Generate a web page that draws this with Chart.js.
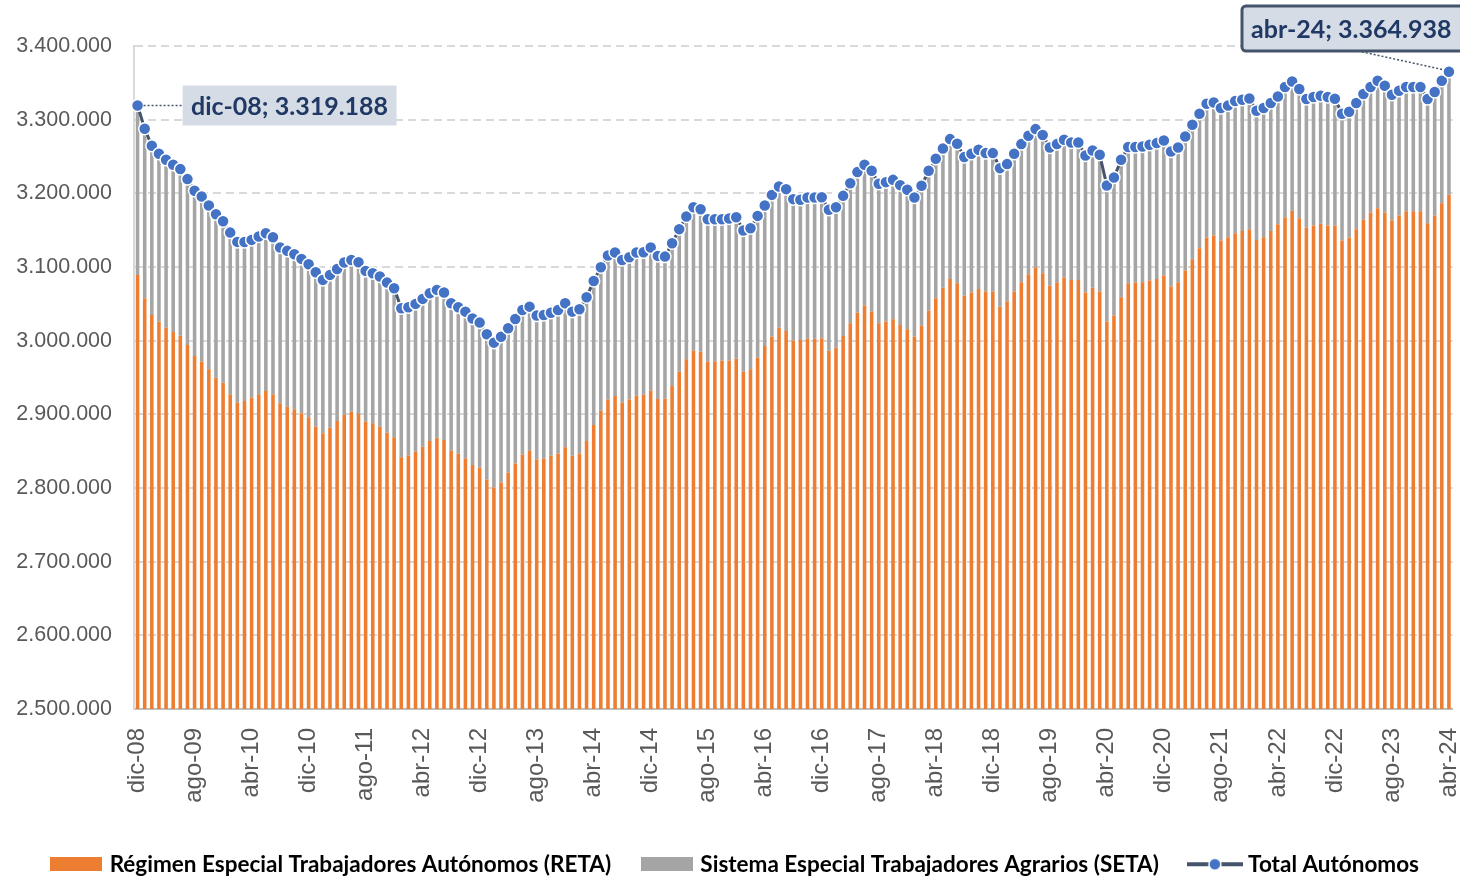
<!DOCTYPE html>
<html>
<head>
<meta charset="utf-8">
<script src="https://cdn.jsdelivr.net/npm/chart.js@4.4.1/dist/chart.umd.min.js"></script>
<style>
  html, body { margin: 0; padding: 0; background: #fff; }
</style>
</head>
<body>
<canvas id="autonomosChart" width="1460" height="876"></canvas>
<script>
// categories: monthly, dic-08 .. abr-24
var monthNames = ['ene', 'feb', 'mar', 'abr', 'may', 'jun', 'jul', 'ago', 'sep', 'oct', 'nov', 'dic'];
var categories = [];
for (var i = 0; i < 185; i++) {
    var m = (11 + i) % 12;
    var y = 2008 + Math.floor((11 + i) / 12);
    categories.push(monthNames[m] + '-' + String(y).slice(2));
}

// Régimen Especial Trabajadores Autónomos (RETA)
var retaValues = [
    3089300, 3057600, 3034900, 3025900, 3017700, 3011800, 3006800, 2994200, 2979200, 2971500,
    2961100, 2949700, 2942900, 2927200, 2915800, 2918100, 2922600, 2927200, 2931700, 2927200,
    2914900, 2910300, 2906800, 2901400, 2895900, 2883200, 2874200, 2881800, 2890900, 2899500,
    2903500, 2900400, 2890000, 2887800, 2883200, 2875000, 2868800, 2841600, 2843700, 2849200,
    2856000, 2863700, 2868200, 2865100, 2850500, 2847000, 2840200, 2831100, 2827500, 2811700,
    2800800, 2807600, 2820600, 2833400, 2845600, 2850500, 2838800, 2840200, 2843700, 2847000,
    2855200, 2843700, 2847000, 2863700, 2885500, 2904900, 2920300, 2924900, 2915800, 2920300,
    2925300, 2926700, 2932100, 2920800, 2921200, 2938500, 2957900, 2974700, 2986400, 2985000,
    2971500, 2972000, 2972800, 2972800, 2975600, 2957900, 2961100, 2976900, 2992800, 3005400,
    3017700, 3013200, 3000000, 3000900, 3002700, 3002700, 3003200, 2986400, 2990500, 3006400,
    3023600, 3038000, 3047600, 3039400, 3023600, 3025900, 3029000, 3021300, 3015500, 3005400,
    3020400, 3040800, 3057600, 3072000, 3083800, 3078000, 3061100, 3065300, 3070200, 3066600,
    3066600, 3046200, 3053000, 3066600, 3079300, 3090200, 3099200, 3091600, 3074700, 3079300,
    3085600, 3082500, 3082500, 3065300, 3072000, 3066600, 3025900, 3034000, 3058900, 3078000,
    3078800, 3079300, 3081600, 3083800, 3088400, 3073400, 3079300, 3095100, 3110600, 3125600,
    3140000, 3142700, 3135500, 3140500, 3145900, 3149000, 3151400, 3136800, 3140500, 3149000,
    3158100, 3167600, 3176200, 3166300, 3153600, 3156300, 3158600, 3156300, 3156300, 3135900,
    3140000, 3151400, 3164000, 3173900, 3179900, 3173900, 3163000, 3169900, 3175700, 3175700,
    3175700, 3159500, 3169900, 3186700, 3198000
];

// Sistema Especial Trabajadores Agrarios (SETA)
var setaValues = [
    229888, 230000, 229600, 227800, 227800, 226900, 226100, 225100, 224200, 224200,
    222300, 222000, 219300, 219500, 218300, 215900, 214200, 214100, 214200, 213300,
    211500, 211600, 210600, 209600, 207900, 209700, 208300, 207500, 206500, 206500,
    206100, 206100, 204700, 203800, 203800, 203800, 202400, 202400, 201700, 200700,
    200700, 200700, 200700, 200200, 200300, 198400, 199200, 198900, 197000, 197000,
    196500, 197800, 196200, 196100, 196100, 195700, 195200, 194700, 194300, 194700,
    195600, 195700, 195600, 195200, 195600, 194800, 195200, 194700, 193800, 193000,
    194300, 193400, 194300, 194300, 192900, 193800, 193500, 193800, 194800, 193500,
    193400, 192900, 192100, 193000, 192000, 191600, 191600, 192500, 190600, 192500,
    191500, 192500, 192100, 190300, 191600, 191600, 191600, 191200, 190700, 190200,
    190200, 190800, 191100, 191200, 189300, 189300, 189300, 189800, 189300, 188900,
    189800, 189800, 189300, 188900, 189800, 189300, 188100, 188400, 188900, 188000,
    188000, 188000, 186700, 187100, 187500, 187900, 188000, 187500, 187600, 187500,
    187100, 186500, 186500, 186100, 186200, 185700, 184700, 187500, 186600, 184800,
    184000, 184300, 184300, 184400, 183300, 183400, 183000, 182100, 182500, 182400,
    181600, 180700, 180300, 178600, 179300, 178000, 177400, 175300, 175300, 173600,
    173400, 176700, 175700, 175300, 174400, 174400, 173900, 174400, 172100, 172100,
    170700, 171200, 170800, 170400, 173000, 172200, 170800, 169400, 168600, 168600,
    168600, 168500, 167600, 166200, 166938
];

// Total Autónomos
var totalValues = [
    3319188, 3287600, 3264500, 3253700, 3245500, 3238700, 3232900, 3219300, 3203400, 3195700,
    3183400, 3171700, 3162200, 3146700, 3134100, 3134000, 3136800, 3141300, 3145900, 3140500,
    3126400, 3121900, 3117400, 3111000, 3103800, 3092900, 3082500, 3089300, 3097400, 3106000,
    3109600, 3106500, 3094700, 3091600, 3087000, 3078800, 3071200, 3044000, 3045400, 3049900,
    3056700, 3064400, 3068900, 3065300, 3050800, 3045400, 3039400, 3030000, 3024500, 3008700,
    2997300, 3005400, 3016800, 3029500, 3041700, 3046200, 3034000, 3034900, 3038000, 3041700,
    3050800, 3039400, 3042600, 3058900, 3081100, 3099700, 3115500, 3119600, 3109600, 3113300,
    3119600, 3120100, 3126400, 3115100, 3114100, 3132300, 3151400, 3168500, 3181200, 3178500,
    3164900, 3164900, 3164900, 3165800, 3167600, 3149500, 3152700, 3169400, 3183400, 3197900,
    3209200, 3205700, 3192100, 3191200, 3194300, 3194300, 3194800, 3177600, 3181200, 3196600,
    3213800, 3228800, 3238700, 3230600, 3212900, 3215200, 3218300, 3211100, 3204800, 3194300,
    3210200, 3230600, 3246900, 3260900, 3273600, 3267300, 3249200, 3253700, 3259100, 3254600,
    3254600, 3234200, 3239700, 3253700, 3266800, 3278100, 3287200, 3279100, 3262300, 3266800,
    3272700, 3269000, 3269000, 3251400, 3258200, 3252300, 3210600, 3221500, 3245500, 3262800,
    3262800, 3263600, 3265900, 3268200, 3271700, 3256800, 3262300, 3277200, 3293100, 3308000,
    3321600, 3323400, 3315800, 3319100, 3325200, 3327000, 3328800, 3312100, 3315800, 3322600,
    3331500, 3344300, 3351900, 3341600, 3328000, 3330700, 3332500, 3330700, 3328400, 3308000,
    3310700, 3322600, 3334800, 3344300, 3352900, 3346100, 3333800, 3339300, 3344300, 3344300,
    3344300, 3328000, 3337500, 3352900, 3364938
];

var yMin = 2500000;
var yMax = 3400000;
var yStep = 100000;
var xLabelEvery = 8;

function fmtNum(v) {
    return String(Math.round(v)).replace(/\B(?=(\d{3})+(?!\d))/g, '.');
}

// legend swatches
function swatch(color) {
    var c = document.createElement('canvas');
    c.width = 52; c.height = 14;
    var g = c.getContext('2d');
    g.fillStyle = color;
    g.fillRect(0, 0, 52, 14);
    return c;
}
function lineSwatch() {
    var c = document.createElement('canvas');
    c.width = 56; c.height = 16;
    var g = c.getContext('2d');
    g.strokeStyle = '#44546A';
    g.lineWidth = 4;
    g.beginPath(); g.moveTo(0, 8); g.lineTo(56, 8); g.stroke();
    g.beginPath(); g.arc(28, 8, 6, 0, Math.PI * 2);
    g.fillStyle = '#4472C4'; g.fill();
    g.lineWidth = 1.5; g.strokeStyle = '#fff'; g.stroke();
    return c;
}

var calloutPlugin = {
    id: 'callouts',
    afterDatasetsDraw: function (chart) {
        var ctx = chart.ctx;
        var pts = chart.getDatasetMeta(2).data;
        var first = pts[0];
        var last = pts[pts.length - 1];
        ctx.save();
        ctx.font = 'bold 25px Lato';
        ctx.textBaseline = 'middle';
        ctx.textAlign = 'center';

        // first point: dic-08
        ctx.setLineDash([2, 2]);
        ctx.lineWidth = 1.5;
        ctx.strokeStyle = '#44546A';
        ctx.beginPath();
        ctx.moveTo(first.x + 6, first.y);
        ctx.lineTo(first.x + 45, first.y);
        ctx.stroke();
        ctx.setLineDash([]);
        ctx.fillStyle = '#D6DCE5';
        ctx.fillRect(first.x + 45, first.y - 20, 214, 40);
        ctx.fillStyle = '#1F3864';
        ctx.fillText(categories[0] + '; ' + fmtNum(totalValues[0]), first.x + 45 + 107, first.y + 1);

        // last point: abr-24
        var bx = 1242, by = 6, bw = 222, bh = 45;
        ctx.setLineDash([2, 2]);
        ctx.lineWidth = 1.5;
        ctx.beginPath();
        ctx.moveTo(1358, by + bh);
        ctx.lineTo(last.x - 5, last.y - 2);
        ctx.stroke();
        ctx.setLineDash([]);
        ctx.beginPath();
        ctx.roundRect(bx, by, bw, bh, 4);
        ctx.fillStyle = '#D6DCE5';
        ctx.fill();
        ctx.lineWidth = 3;
        ctx.strokeStyle = '#44546A';
        ctx.stroke();
        ctx.fillStyle = '#1F3864';
        ctx.textAlign = 'left';
        ctx.fillText(categories[categories.length - 1] + '; ' + fmtNum(totalValues[totalValues.length - 1]), 1251, by + bh / 2 + 1);
        ctx.restore();
    }
};

var ctx = document.getElementById('autonomosChart').getContext('2d');
var myChart = new Chart(ctx, {
    type: 'bar',
    data: {
        labels: categories,
        datasets: [{
            label: 'Régimen Especial Trabajadores Autónomos (RETA)',
            data: retaValues,
            backgroundColor: '#ED7D31',
            stack: 'afiliados',
            order: 1,
            categoryPercentage: 1,
            barPercentage: 0.5
        }, {
            label: 'Sistema Especial Trabajadores Agrarios (SETA)',
            data: setaValues,
            backgroundColor: '#A5A5A5',
            stack: 'afiliados',
            order: 2,
            categoryPercentage: 1,
            barPercentage: 0.5
        }, {
            type: 'line',
            label: 'Total Autónomos',
            data: totalValues,
            stack: 'total',
            order: 0,
            borderColor: '#44546A',
            borderWidth: 3,
            tension: 0,
            pointRadius: 6,
            pointBackgroundColor: '#4472C4',
            pointBorderColor: '#ffffff',
            pointBorderWidth: 1.5
        }]
    },
    options: {
        responsive: false,
        animation: false,
        layout: {
            padding: { top: 46, right: 7, left: 0, bottom: 0 }
        },
        plugins: {
            tooltip: { enabled: false },
            legend: {
                position: 'bottom',
                align: 'end',
                maxHeight: 57,
                labels: {
                    usePointStyle: true,
                    pointStyleWidth: 44,
                    boxHeight: 14,
                    padding: 34,
                    color: '#595959',
                    font: { family: 'Lato', weight: 'bold', size: 22.5 },
                    generateLabels: function (chart) {
                        var ds = chart.data.datasets;
                        return [
                            { text: ds[0].label, pointStyle: swatch('#ED7D31'), fillStyle: '#ED7D31', strokeStyle: '#ED7D31', lineWidth: 0, hidden: false, datasetIndex: 0 },
                            { text: ds[1].label, pointStyle: swatch('#A5A5A5'), fillStyle: '#A5A5A5', strokeStyle: '#A5A5A5', lineWidth: 0, hidden: false, datasetIndex: 1 },
                            { text: ds[2].label, pointStyle: lineSwatch(), fillStyle: '#4472C4', strokeStyle: '#44546A', lineWidth: 0, hidden: false, datasetIndex: 2 }
                        ];
                    }
                }
            }
        },
        scales: {
            x: {
                stacked: true,
                grid: { display: false, drawTicks: false },
                border: { display: true, color: '#BFBFBF', width: 2 },
                afterFit: function (scale) {
                    scale.height = 110;
                    scale.paddingLeft = 0;
                    scale.paddingRight = 0;
                },
                ticks: {
                    autoSkip: false,
                    maxRotation: 90,
                    minRotation: 90,
                    padding: 19,
                    color: '#595959',
                    font: { family: 'Liberation Sans', size: 24, lineHeight: 1 },
                    callback: function (value, index) {
                        return index % xLabelEvery === 0 ? categories[index] : null;
                    }
                }
            },
            y: {
                stacked: true,
                min: yMin,
                max: yMax,
                afterFit: function (scale) { scale.width = 134; },
                grid: {
                    drawTicks: false,
                    lineWidth: 2,
                    color: function (c) { return c.index === 0 ? 'rgba(0,0,0,0)' : '#D9D9D9'; }
                },
                border: { display: true, color: '#D9D9D9', width: 2, dash: [8, 5] },
                ticks: {
                    stepSize: yStep,
                    padding: 22,
                    color: '#595959',
                    font: { family: 'Liberation Sans', size: 21.5 },
                    callback: function (value) { return fmtNum(value); }
                }
            }
        }
    },
    plugins: [calloutPlugin]
});
</script>
</body>
</html>
